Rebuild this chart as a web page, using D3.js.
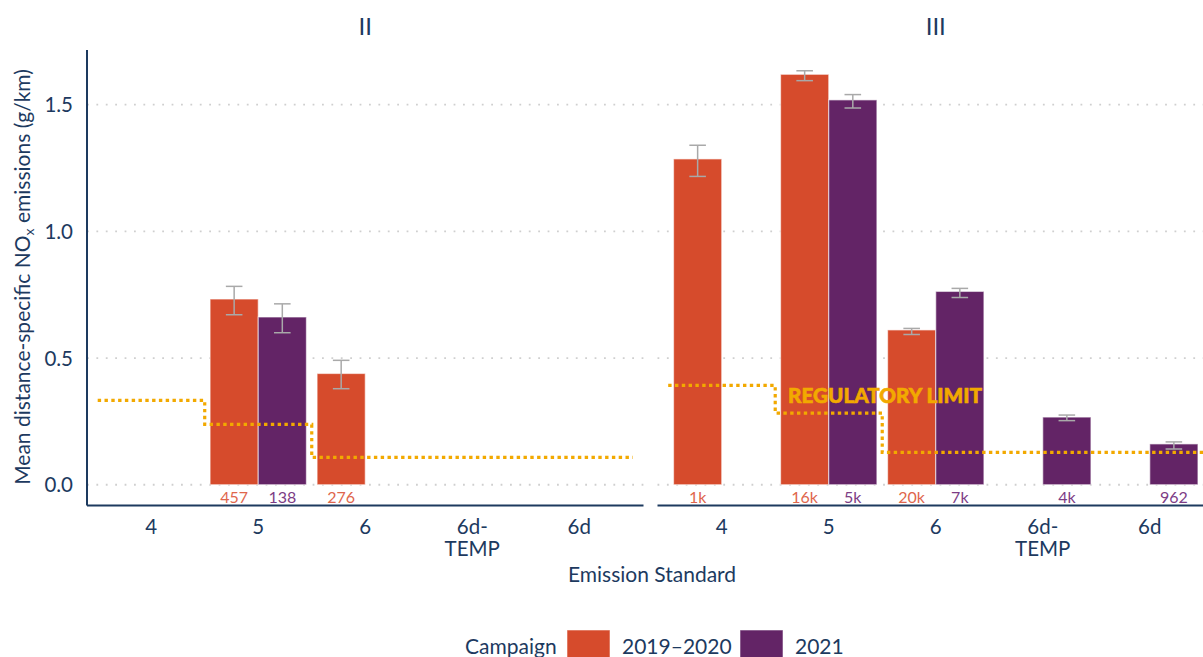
<!DOCTYPE html>
<html><head><meta charset="utf-8">
<script src="https://cdn.jsdelivr.net/npm/d3@7"></script>
<style>
body{margin:0;background:#fff;}
svg text{font-family:Lato,"Open Sans",sans-serif;}
</style></head>
<body><svg id="chart" width="1203" height="657"></svg>
<script>
const categories = ["4","5","6","6d-TEMP","6d"];
const panels = ["II","III"];
const campaigns = ["2019–2020","2021"];
// bars: panel, category, campaign, mean, lower, upper, count label
const barPanel    = ["II","II","II","III","III","III","III","III","III","III"];
const barCategory = ["5","5","6","4","5","5","6","6","6d-TEMP","6d"];
const barCampaign = ["2019–2020","2021","2019–2020","2019–2020","2019–2020","2021","2019–2020","2021","2021","2021"];
const barMean     = [0.733,0.662,0.439,1.286,1.620,1.519,0.611,0.763,0.267,0.161];
const barLow      = [0.671,0.600,0.379,1.217,1.595,1.487,0.593,0.739,0.253,0.141];
const barHigh     = [0.783,0.714,0.491,1.340,1.634,1.540,0.617,0.775,0.275,0.169];
const barCount    = ["457","138","276","1k","16k","5k","20k","7k","4k","962"];
// regulatory limits per category
const limitII  = [0.333,0.238,0.108,0.108,0.108];
const limitIII = [0.392,0.283,0.128,0.128,0.128];
const yTicks = [0,0.5,1.0,1.5];

const colors = {"2019–2020":"#D64B2C","2021":"#632466"};
const labelColors = {"2019–2020":"#E0664C","2021":"#7D3C85"};
const navy = "#1d3a5f";
const gold = "#F2A900";
const fs = 20.5;

const svg = d3.select("#chart");
const yTop = 50, yBottom = 505.5;
const y = d3.scaleLinear().domain([-0.082,1.716]).range([yBottom, yTop]);
const panelRange = {"II":[87,643.5],"III":[657.5,1214]};

panels.forEach(p=>{
  const [x0,x1] = panelRange[p];
  const x = d3.scalePoint().domain(categories).range([x0,x1]).padding(0.6);
  const step = x.step();
  const g = svg.append("g");
  // gridlines
  g.selectAll("line.grid").data(yTicks).join("line")
    .attr("x1",x0).attr("x2",x1).attr("y1",d=>y(d)).attr("y2",d=>y(d))
    .attr("stroke","#cfcfcf").attr("stroke-width",1.8).attr("stroke-dasharray","1.8,7.6");
  // bars
  const idx = d3.range(barMean.length).filter(i=>barPanel[i]===p);
  const dodge = step*0.9, bw = dodge/2;
  const xb = i => x(barCategory[i]) - dodge/2 + campaigns.indexOf(barCampaign[i])*bw;
  g.selectAll("rect.bar").data(idx).join("rect")
    .attr("x",i=>xb(i)).attr("width",bw)
    .attr("y",i=>y(barMean[i])).attr("height",i=>y(0)-y(barMean[i]))
    .attr("fill",i=>colors[barCampaign[i]])
    .attr("stroke","#fff").attr("stroke-opacity",0.55).attr("stroke-width",1.2);
  // error bars
  const cap = step*0.155;
  idx.forEach(i=>{
    const cx = xb(i)+bw/2;
    const eg = g.append("g").attr("stroke","#a9a9a9").attr("stroke-width",1.5);
    eg.append("line").attr("x1",cx).attr("x2",cx).attr("y1",y(barLow[i])).attr("y2",y(barHigh[i]));
    eg.append("line").attr("x1",cx-cap/2).attr("x2",cx+cap/2).attr("y1",y(barLow[i])).attr("y2",y(barLow[i]));
    eg.append("line").attr("x1",cx-cap/2).attr("x2",cx+cap/2).attr("y1",y(barHigh[i])).attr("y2",y(barHigh[i]));
  });
  // count labels
  g.selectAll("text.cnt").data(idx).join("text")
    .attr("x",i=>xb(i)+bw/2).attr("y",502.5)
    .attr("text-anchor","middle").attr("font-size",16)
    .attr("fill",i=>labelColors[barCampaign[i]])
    .text(i=>barCount[i]);
  // regulatory limit step line
  const lim = p==="II"?limitII:limitIII;
  const pts = categories.map((c,k)=>[x(c)-step/2, lim[k]]);
  pts.push([x(categories[categories.length-1])+step/2, lim[lim.length-1]]);
  const line = d3.line().x(d=>d[0]).y(d=>y(d[1])).curve(d3.curveStepAfter);
  g.append("path").attr("d",line(pts)).attr("fill","none")
    .attr("stroke",gold).attr("stroke-width",3.2).attr("stroke-dasharray","3.4,3.4");
  // bottom axis line
  g.append("line").attr("x1",x0).attr("x2",x1).attr("y1",yBottom).attr("y2",yBottom)
    .attr("stroke",navy).attr("stroke-width",2);
  // x tick labels
  categories.forEach(c=>{
    const parts = c==="6d-TEMP"?["6d-","TEMP"]:[c];
    const t = g.append("text").attr("x",x(c)).attr("y",534).attr("text-anchor","middle")
      .attr("font-size",fs).attr("fill",navy);
    parts.forEach((s,k)=>t.append("tspan").attr("x",x(c)).attr("dy",k?22:0).text(s));
  });
  // facet title
  g.append("text").attr("x",(x0+x1)/2).attr("y",35).attr("text-anchor","middle")
    .attr("font-size",24).attr("fill",navy).text(p);
  if(p==="II"){
    g.append("line").attr("x1",x0).attr("x2",x0).attr("y1",yTop).attr("y2",yBottom)
      .attr("stroke",navy).attr("stroke-width",2);
    yTicks.forEach(t=>{
      g.append("text").attr("x",73).attr("y",y(t)+7.5).attr("text-anchor","end")
        .attr("font-size",fs).attr("fill",navy).text(d3.format(".1f")(t));
    });
  }
  if(p==="III"){
    g.append("text").attr("x",788).attr("y",403).attr("font-size",20).attr("font-weight",900)
      .attr("fill",gold).attr("stroke",gold).attr("stroke-width",0.6)
      .attr("textLength",194).attr("lengthAdjust","spacingAndGlyphs")
      .text("REGULATORY LIMIT");
  }
});

// axis titles
svg.append("text").attr("x",652).attr("y",582).attr("text-anchor","middle")
  .attr("font-size",fs+0.5).attr("fill",navy).text("Emission Standard");
const yt = svg.append("text").attr("transform","translate(30,277) rotate(-90)")
  .attr("text-anchor","middle").attr("font-size",fs+0.5).attr("fill",navy);
yt.append("tspan").text("Mean distance-specific NO");
yt.append("tspan").attr("font-size",14).attr("dy",4).text("x");
yt.append("tspan").attr("dy",-4).text(" emissions (g/km)");

// legend
const lg = svg.append("g");
lg.append("text").attr("x",465).attr("y",654).attr("font-size",fs+0.5).attr("fill",navy).text("Campaign");
const lx = [567,740];
campaigns.forEach((c,k)=>{
  lg.append("rect").attr("x",lx[k]).attr("y",630).attr("width",43).attr("height",30)
    .attr("fill",colors[c]).attr("stroke","#fff").attr("stroke-opacity",0.55);
  lg.append("text").attr("x",lx[k]+55).attr("y",654).attr("font-size",fs+0.5).attr("fill",navy).text(c);
});
</script></body></html>
